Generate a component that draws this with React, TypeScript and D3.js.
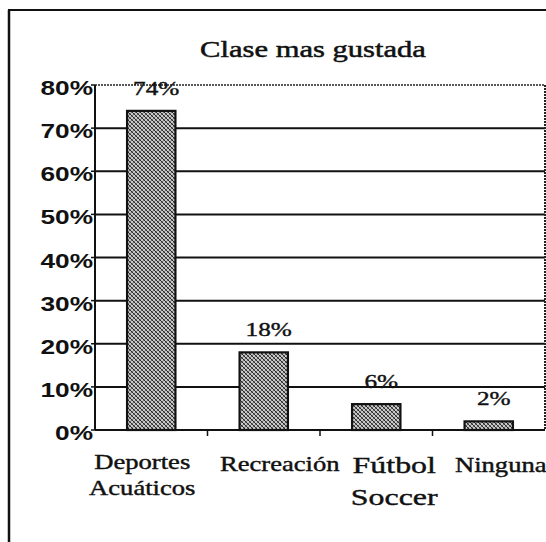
import React from "react";
import * as d3 from "d3";

const categories = ["Deportes Acuáticos", "Recreación", "Fútbol Soccer", "Ninguna"];
const labelLines = [["Deportes", "Acuáticos"], ["Recreación"], ["Fútbol", "Soccer"], ["Ninguna"]];
const values = [74, 18, 6, 2];
const valueLabels = ["74%", "18%", "6%", "2%"];
const yTicks = [0, 10, 20, 30, 40, 50, 60, 70, 80];
const title = "Clase mas gustada";

// layout styling (not data)
const W = 546;
const H = 542;
const SX = 1.33; // horizontal stretch of the scanned text
const labelShift = [-9, 16, 18, 12];
const lineFont = [
  [20, 20],
  [20],
  [24, 24],
  [20],
];
const lineBase = [
  [469, 495],
  [471],
  [473, 505],
  [472],
];

export default function App() {
  const x = d3.scaleBand<string>().domain(categories).range([95, 545]).paddingInner(0.57).paddingOuter(0.285);
  const y = d3.scaleLinear().domain([0, 80]).range([430, 85]);
  const band = (545 - 95) / categories.length;
  const serif = "'Liberation Serif', 'Times New Roman', serif";
  const sans = "'Liberation Sans', Arial, sans-serif";

  return (
    <svg width={W} height={H} style={{ position: "absolute", left: 0, top: 0, background: "#fff" }}>
      <defs>
        <pattern id="hatch" width="4" height="4" patternUnits="userSpaceOnUse">
          <rect width="4" height="4" fill="#c8c8c8" />
          <path d="M0,0 L4,4 M-1,3 L1,5 M3,-1 L5,1" stroke="#2a2a2a" strokeWidth="1" />
          <path d="M4,0 L0,4 M-1,1 L1,-1 M3,5 L5,3" stroke="#555" strokeWidth="0.8" />
        </pattern>
      </defs>

      {/* outer frame */}
      <line x1={8} y1={10} x2={546} y2={10} stroke="#111" strokeWidth={2} />
      <line x1={9} y1={10} x2={9} y2={542} stroke="#111" strokeWidth={2.5} />

      {/* title */}
      <text transform={`translate(313,57) scale(${SX},1)`} textAnchor="middle" fontFamily={serif} fontSize={23} fill="#111" stroke="#111" strokeWidth={0.5}>
        {title}
      </text>

      {/* gridlines */}
      {yTicks.filter((t) => t > 0 && t < 80).map((t) => (
        <line key={t} x1={95} x2={545} y1={y(t)} y2={y(t)} stroke="#111" strokeWidth={2} />
      ))}
      {/* top and right dotted borders */}
      <line x1={95} x2={545} y1={y(80)} y2={y(80)} stroke="#222" strokeWidth={1.5} strokeDasharray="2,1" />
      <line x1={545} x2={545} y1={y(80)} y2={y(0)} stroke="#222" strokeWidth={2} strokeDasharray="2,1" />

      {/* bars */}
      {values.map((v, i) => (
        <rect
          key={categories[i]}
          x={x(categories[i])}
          y={y(v)}
          width={x.bandwidth()}
          height={y(0) - y(v)}
          fill="url(#hatch)"
          stroke="#111"
          strokeWidth={2.2}
        />
      ))}

      {/* axes */}
      <line x1={95} x2={95} y1={y(80)} y2={y(0)} stroke="#111" strokeWidth={2} />
      <line x1={95} x2={545} y1={y(0)} y2={y(0)} stroke="#111" strokeWidth={2.2} />
      {yTicks.map((t) => (
        <line key={"yt" + t} x1={91} x2={95} y1={y(t)} y2={y(t)} stroke="#111" strokeWidth={1.5} />
      ))}
      {categories.map((c, i) =>
        i > 0 ? (
          <line key={"xt" + c} x1={95 + band * i} x2={95 + band * i} y1={y(0)} y2={y(0) + 6} stroke="#111" strokeWidth={1.5} />
        ) : null
      )}

      {/* y tick labels */}
      {yTicks.map((t) => (
        <text
          key={"yl" + t}
          transform={`translate(93,${y(t) + 10}) scale(1.25,1)`}
          textAnchor="end"
          fontFamily={sans}
          fontWeight="bold"
          fontSize={21}
          fill="#111"
        >
          {t}%
        </text>
      ))}

      {/* value labels */}
      {values.map((v, i) => (
        <text
          key={"vl" + i}
          transform={`translate(${(x(categories[i]) as number) + x.bandwidth() / 2 + 5},${y(v) - 16}) scale(${SX},1)`}
          textAnchor="middle"
          fontFamily={serif}
          fontSize={19}
          fill="#111"
          stroke="#111"
          strokeWidth={0.4}
        >
          {valueLabels[i]}
        </text>
      ))}

      {/* category labels */}
      {labelLines.map((lines, i) =>
        lines.map((ln, j) => (
          <text
            key={"cl" + i + "-" + j}
            transform={`translate(${(x(categories[i]) as number) + x.bandwidth() / 2 + labelShift[i]},${lineBase[i][j]}) scale(${SX},1)`}
            textAnchor="middle"
            fontFamily={serif}
            fontSize={lineFont[i][j]}
            fill="#111"
            stroke="#111"
            strokeWidth={0.4}
          >
            {ln}
          </text>
        ))
      )}
    </svg>
  );
}
